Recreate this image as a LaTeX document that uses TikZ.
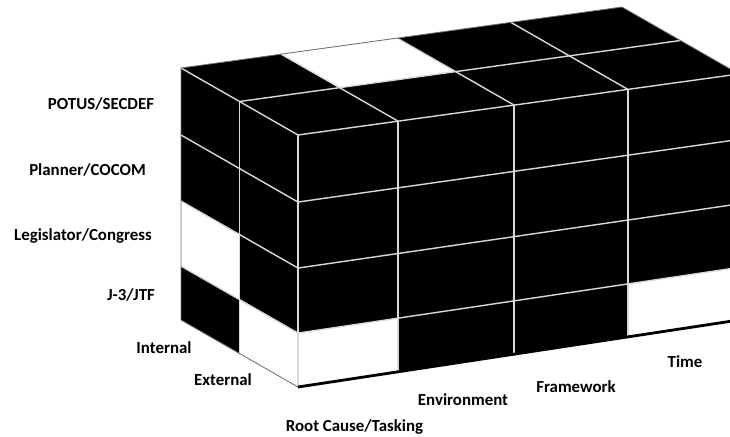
\documentclass[tikz,border=0pt]{standalone}
\usepackage{fontspec}
\setmainfont{Carlito}
\usepackage{tikz}
\usetikzlibrary{positioning,calc}
\tikzset{
  cube cell/.style={fill=black},
  blank cell/.style={fill=white},
  grid line/.style={draw=black!15, line width=1pt},
  cube edge/.style={draw=black!55, line width=0.6pt},
  base edge/.style={draw=black, line width=2pt},
  axis label/.style={font=\fontsize{12}{14}\selectfont\bfseries, inner sep=0pt}
}

\begin{document}
\begin{tikzpicture}[x=0.025cm, y=-0.025cm]
        \useasboundingbox (0,0) rectangle (730,436);
        % Grid points: column i, row j, depth k (0 front, 1 middle, 2 back)
        \foreach \i/\cx in {0/0,1/0.227,2/0.49,3/0.748,4/1}
          \foreach \j/\ry in {0/0,1/0.266,2/0.528,3/0.786,4/1}
            \foreach \k in {0,1,2}
              \coordinate (p\i\j\k) at ({298+441*\cx-58.5*\k},{135-61*\cx+\ry*(252-6*\cx)-33.5*\k});

        \begin{scope}
        \clip (0,0) rectangle (730,436);
        % Faces, black first
        \fill[cube cell] (p000) -- (p400) -- (p440) -- (p040) -- cycle;
        \fill[cube cell] (p000) -- (p400) -- (p402) -- (p002) -- cycle;
        \fill[cube cell] (p000) -- (p002) -- (p042) -- (p040) -- cycle;

        % White cells
        \fill[blank cell] (p030) -- (p130) -- (p140) -- (p040) -- cycle;
        \fill[blank cell] (p330) -- (p430) -- (p440) -- (p340) -- cycle;
        \fill[blank cell] (p101) -- (p201) -- (p202) -- (p102) -- cycle;
        \fill[blank cell] (p021) -- (p022) -- (p032) -- (p031) -- cycle;
        \fill[blank cell] (p030) -- (p031) -- (p041) -- (p040) -- cycle;

        % Grid lines
        \foreach \i in {1,2,3} {
          \draw[grid line] (p\i00) -- (p\i40);
          \draw[grid line] (p\i00) -- (p\i02);
          \draw[grid line] (p0\i0) -- (p4\i0);
          \draw[grid line] (p0\i0) -- (p0\i2);
        }
        \draw[grid line] (p001) -- (p401);
        \draw[grid line] (p001) -- (p041);
        \draw[grid line] (p000) -- (p400);
        \draw[grid line] (p000) -- (p040);
        \draw[grid line] (p000) -- (p002);

        % Outline
        \draw[cube edge] (p040) -- (p042) -- (p002) -- (p402) -- (p400);
        \draw[base edge] (p040) -- (p440);
        \end{scope}

        % Row labels
        \node[axis label] (potus) at (101,104) {POTUS/SECDEF};
        \node[axis label] (planner) at (87.5,170) {Planner/COCOM};
        \node[axis label] (legis) at (83,236) {Legislator/Congress};
        \node[axis label] (jthree) at (131,295) {J-3/JTF};
        % Depth labels
        \node[axis label] (internal) at (164,348) {Internal};
        \node[axis label] (external) at (223,380) {External};
        % Column labels
        \node[axis label] (rootcause) at (354.5,427) {Root Cause/Tasking};
        \node[axis label] (environ) at (463,400) {Environment};
        \node[axis label] (framework) at (576,387) {Framework};
        \node[axis label] (time) at (685,362) {Time};
\end{tikzpicture}
\end{document}
